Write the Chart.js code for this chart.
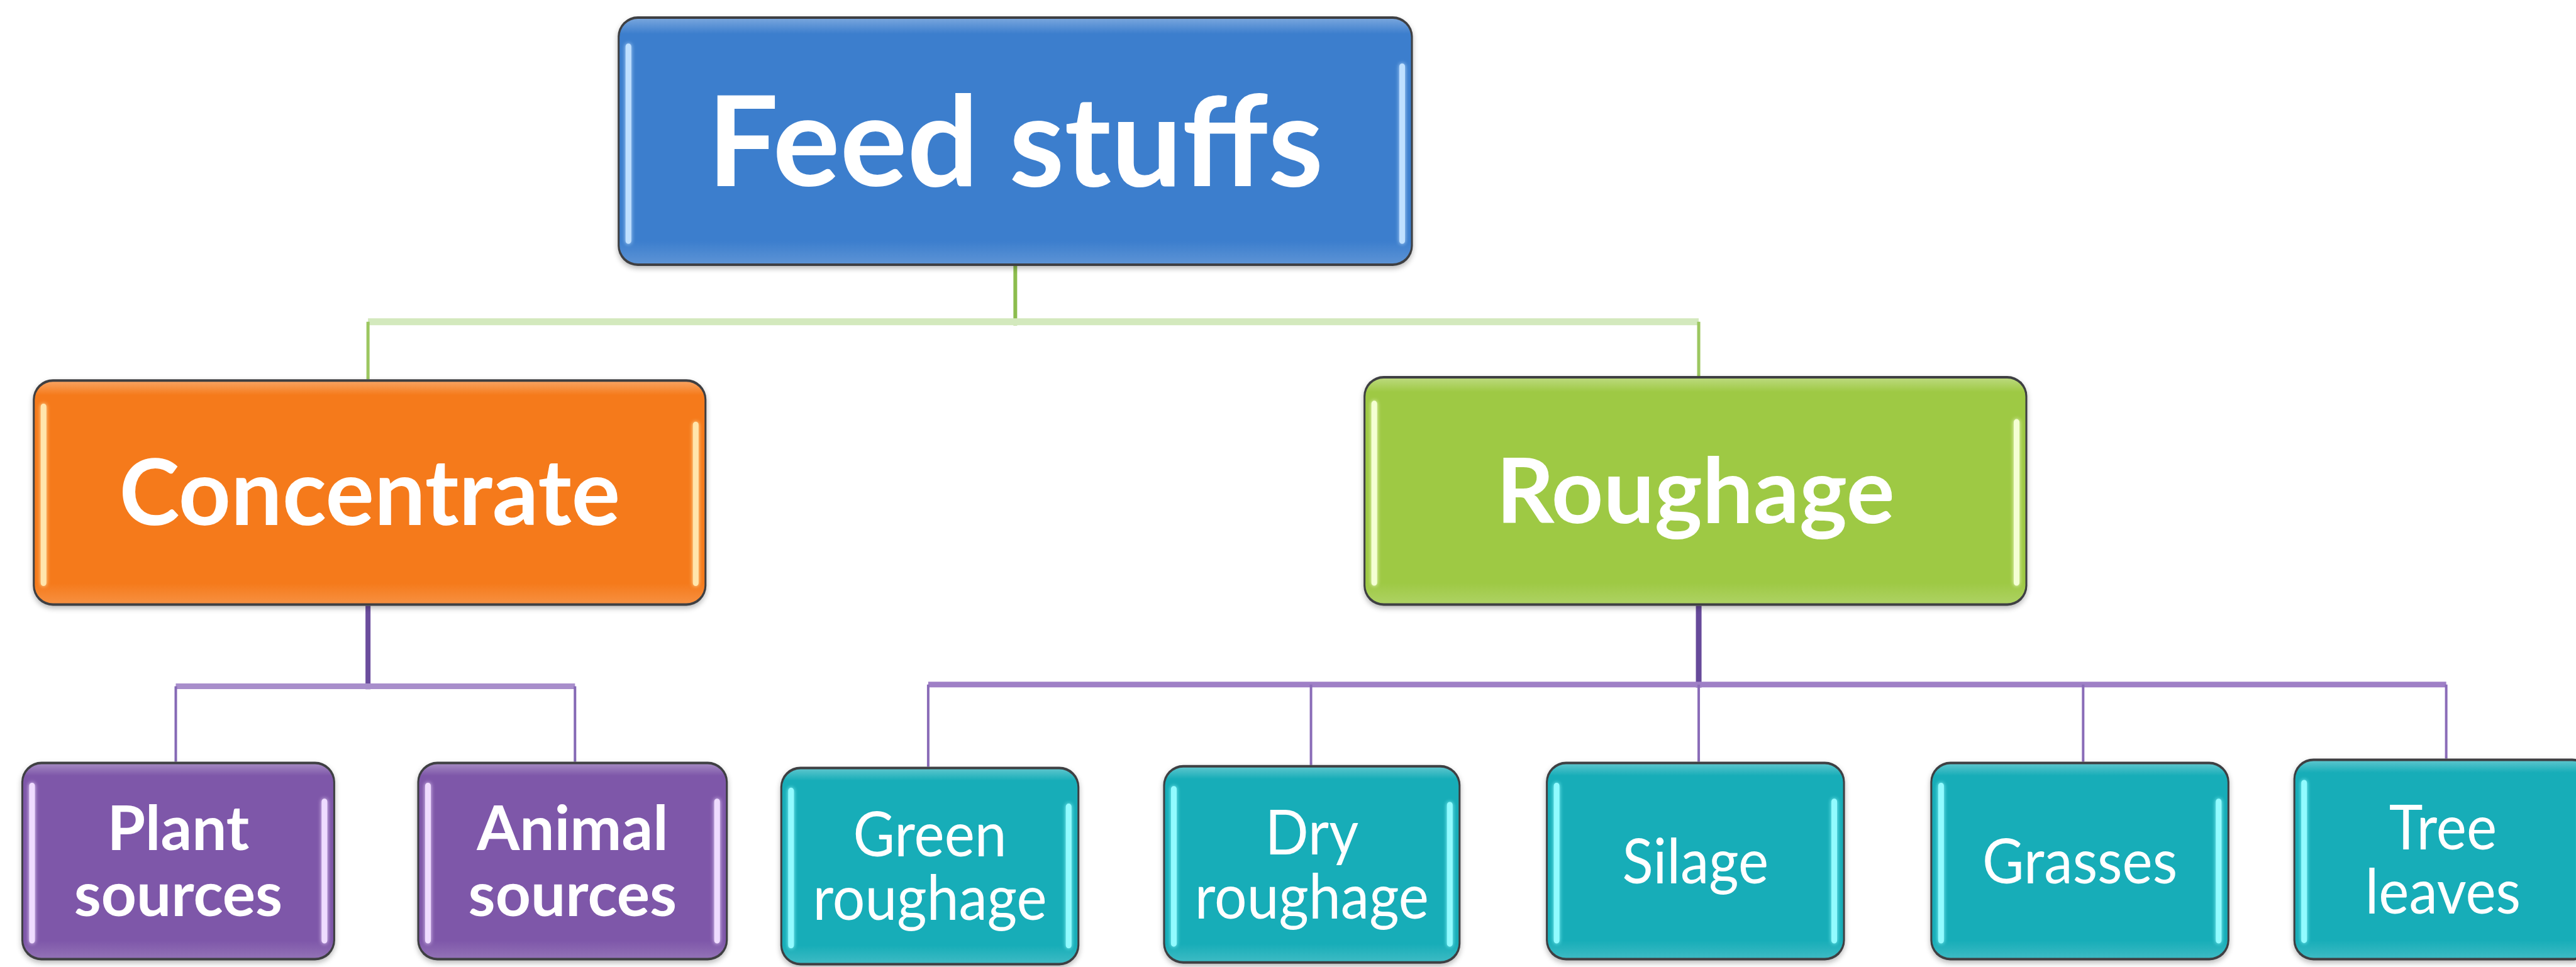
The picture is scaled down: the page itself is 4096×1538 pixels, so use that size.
<!DOCTYPE html>
<html>
<head>
<meta charset="utf-8">
<script src="https://cdn.jsdelivr.net/npm/chart.js@4/dist/chart.umd.min.js"></script>
<style>
html,body{margin:0;padding:0;background:#ffffff;overflow:hidden}
#wrap{width:4096px;height:1538px;position:relative}
canvas{display:block}
</style>
</head>
<body>
<div id="wrap"><canvas id="c" width="4096" height="1538"></canvas></div>
<script>
// ---------- tree content ----------
const nodeLabels  = ['Feed stuffs', 'Concentrate', 'Roughage', 'Plant\nsources', 'Animal\nsources',
                     'Green\nroughage', 'Dry\nroughage', 'Silage', 'Grasses', 'Tree\nleaves'];
const nodeParents = [-1, 0, 0, 1, 1, 2, 2, 2, 2, 2];
const nodeKinds   = ['root', 'concentrate', 'roughage', 'purple', 'purple',
                     'teal', 'teal', 'teal', 'teal', 'teal'];

// ---------- layout in diagram units (x: 0..1568, y: 0..589 downward) ----------
const boxLeft    = [376, 20, 830, 13, 254, 475, 708, 941, 1175, 1396];
const boxRight   = [860, 430, 1234, 204, 443, 657, 889, 1123, 1357, 1578];
const boxTop     = [10, 231, 229, 464, 464, 467, 466, 464, 464, 462];
const boxBottom  = [162, 369, 369, 585, 585, 588, 587, 585, 585, 585];
const linkX      = [618, 224, 1034, 107, 350, 565, 798, 1034, 1268, 1489];
const busY       = {0: 196, 1: 418, 2: 417};

// ---------- styles ----------
const kindStyle = {
  root:        {fill: '#3c7ecd', hl: '#bfe0ff', font: 'bold 200px Lato', sx: 1,    lineH: 0},
  concentrate: {fill: '#f57a1b', hl: '#ffe6ad', font: 'bold 145px Lato', sx: 1,    lineH: 0},
  roughage:    {fill: '#9ec944', hl: '#f4ffd4', font: 'bold 144px Lato', sx: 1,    lineH: 0},
  purple:      {fill: '#7e57a9', hl: '#efdcff', font: 'bold 98px Lato',  sx: 1,    lineH: 40},
  teal:        {fill: '#17adb8', hl: '#92fbff', font: '98px Lato',       sx: 0.93, lineH: 39}
};
const CAP = 0.7165;
const linkStyle = {
  0: {trunk: ['#8cbd4e', 6], bus: ['#d3e9bd', 11], drop: ['#9cc760', 5]},
  1: {trunk: ['#6b4d9d', 8], bus: ['#a88ecb', 9], drop: ['#8569b5', 4]},
  2: {trunk: ['#674a9a', 9], bus: ['#9f80c6', 9], drop: ['#8a6cb8', 4]}
};

// ---------- build connector datasets ----------
const datasets = [];
function seg(points, style) {
  datasets.push({
    data: points, showLine: true, borderColor: style[0], borderWidth: style[1],
    pointRadius: 0, pointHoverRadius: 0, tension: 0, borderCapStyle: 'butt', fill: false
  });
}
Object.keys(busY).forEach(k => {
  const p = +k;
  const kids = nodeParents.map((q, i) => q === p ? i : -1).filter(i => i >= 0);
  const st = linkStyle[p];
  const xs = kids.map(c => linkX[c]);
  kids.forEach(c => seg([{x: linkX[c], y: busY[p]}, {x: linkX[c], y: boxTop[c]}], st.drop));
  seg([{x: Math.min(...xs), y: busY[p]}, {x: Math.max(...xs), y: busY[p]}], st.bus);
  seg([{x: linkX[p], y: boxBottom[p]}, {x: linkX[p], y: busY[p] + st.bus[1] / 5}], st.trunk);
});

// ---------- helpers ----------
function mix(hex, t) {
  const n = parseInt(hex.slice(1), 16);
  const r = n >> 16, g = (n >> 8) & 255, b = n & 255;
  const f = v => Math.round(v + (255 - v) * t);
  return `rgb(${f(r)},${f(g)},${f(b)})`;
}
function rr(ctx, x, y, w, h, r) {
  ctx.beginPath();
  ctx.moveTo(x + r, y);
  ctx.arcTo(x + w, y, x + w, y + h, r);
  ctx.arcTo(x + w, y + h, x, y + h, r);
  ctx.arcTo(x, y + h, x, y, r);
  ctx.arcTo(x, y, x + w, y, r);
  ctx.closePath();
}

const boxPlugin = {
  id: 'boxes',
  afterDatasetsDraw(chart) {
    const ctx = chart.ctx, sx = chart.scales.x, sy = chart.scales.y;
    nodeLabels.forEach((label, i) => {
      const st = kindStyle[nodeKinds[i]];
      const x0 = sx.getPixelForValue(boxLeft[i]), x1 = sx.getPixelForValue(boxRight[i]);
      const y0 = sy.getPixelForValue(boxTop[i]), y1 = sy.getPixelForValue(boxBottom[i]);
      const w = x1 - x0, h = y1 - y0, r = 32;
      ctx.save();
      ctx.shadowColor = 'rgba(0,0,0,0.28)';
      ctx.shadowBlur = 8; ctx.shadowOffsetY = 4;
      rr(ctx, x0, y0, w, h, r);
      ctx.fillStyle = '#3e3f42';
      ctx.fill();
      ctx.restore();
      ctx.save();
      const g = ctx.createLinearGradient(0, y0, 0, y1);
      g.addColorStop(0, mix(st.fill, 0.35));
      g.addColorStop(0.07, st.fill);
      g.addColorStop(0.9, st.fill);
      g.addColorStop(1, mix(st.fill, 0.18));
      rr(ctx, x0 + 3, y0 + 4, w - 6, h - 8, r - 3);
      ctx.fillStyle = g;
      ctx.fill();
      ctx.strokeStyle = st.hl;
      ctx.lineCap = 'round';
      ctx.lineWidth = 9;
      ctx.shadowColor = st.hl; ctx.shadowBlur = 6;
      ctx.beginPath();
      ctx.moveTo(x0 + 17, y0 + h * 0.12); ctx.lineTo(x0 + 17, y1 - h * 0.1);
      ctx.moveTo(x1 - 17, y0 + h * 0.2); ctx.lineTo(x1 - 17, y1 - h * 0.1);
      ctx.stroke();
      ctx.restore();
      // text
      ctx.save();
      ctx.fillStyle = '#ffffff';
      ctx.font = st.font;
      ctx.textAlign = 'center';
      ctx.textBaseline = 'alphabetic';
      const size = parseFloat(st.font.match(/(\d+)px/)[1]);
      const capH = size * CAP;
      const lines = label.split('\n');
      const cx = (x0 + x1) / 2, cy = (y0 + y1) / 2;
      const lh = sy.getPixelForValue(st.lineH) - sy.getPixelForValue(0);
      lines.forEach((ln, k) => {
        const base = cy + capH / 2 + (k - (lines.length - 1) / 2) * lh;
        ctx.save();
        ctx.translate(cx, base);
        ctx.scale(st.sx, 1);
        ctx.fillText(ln, 0, 0);
        ctx.restore();
      });
      ctx.restore();
    });
  }
};

new Chart(document.getElementById('c'), {
  type: 'scatter',
  data: {datasets},
  options: {
    responsive: false, animation: false, devicePixelRatio: 1,
    layout: {padding: 0},
    plugins: {legend: {display: false}, tooltip: {enabled: false}, title: {display: false}},
    events: [],
    scales: {
      x: {type: 'linear', min: 0, max: 1568, display: false},
      y: {type: 'linear', min: 0, max: 589, reverse: true, display: false}
    }
  },
  plugins: [boxPlugin]
});
</script>
</body>
</html>
